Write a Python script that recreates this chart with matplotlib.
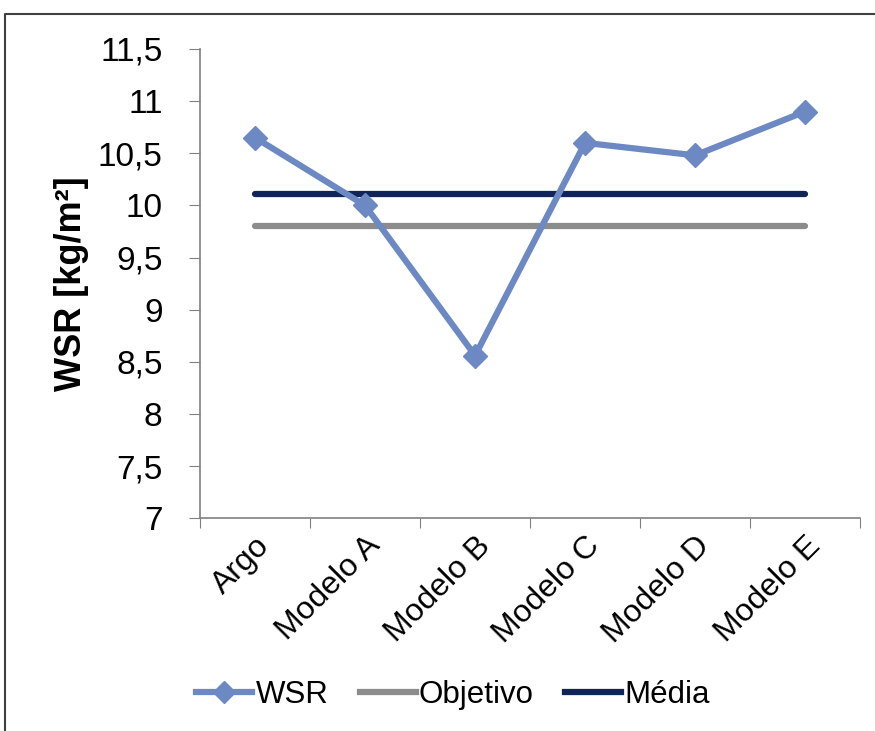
import matplotlib
matplotlib.use("Agg")
import matplotlib.pyplot as plt
from matplotlib.lines import Line2D
import numpy as np

categories = ["Argo", "Modelo A", "Modelo B", "Modelo C", "Modelo D", "Modelo E"]
wsr = [10.65, 10.0, 8.56, 10.6, 10.48, 10.9]
objetivo = [9.8] * 6
media = [10.11] * 6
y_ticks = [7, 7.5, 8, 8.5, 9, 9.5, 10, 10.5, 11, 11.5]
y_tick_labels = ["7", "7,5", "8", "8,5", "9", "9,5", "10", "10,5", "11", "11,5"]

plt.rcParams["font.family"] = ["Liberation Sans", "DejaVu Sans"]

fig = plt.figure(figsize=(8.75, 7.31), dpi=100)
ax = fig.add_axes([0.2286, 0.291, 0.983 - 0.2286, 0.933 - 0.291])

x = np.arange(len(categories)) + 0.5
c_wsr = "#6C89C4"
c_obj = "#8C8C8C"
c_med = "#0F2557"

ax.plot(x, objetivo, color=c_obj, lw=4.5, solid_capstyle="round", zorder=2)
ax.plot(x, media, color=c_med, lw=4.5, solid_capstyle="round", zorder=2)
ax.plot(x, wsr, color=c_wsr, lw=4.5, marker="D", ms=12, mec=c_wsr, mfc=c_wsr, zorder=3)

ax.set_xlim(0, len(categories))
ax.set_ylim(7, 11.5)
ax.set_yticks(y_ticks)
ax.set_yticklabels(y_tick_labels, fontsize=24)
ax.set_xticks(np.arange(len(categories) + 1))
ax.set_xticklabels([])
ax.set_xticks(x, minor=True)
ax.set_xticklabels(categories, minor=True, rotation=45, ha="right",
                   rotation_mode="anchor", fontsize=23)
ax.tick_params(axis="x", which="minor", length=0, pad=9)
ax.tick_params(axis="x", which="major", length=7, direction="out", color="#808080")
ax.tick_params(axis="y", length=8, direction="out", color="#808080", pad=19)

for side in ["top", "right"]:
    ax.spines[side].set_visible(False)
for side in ["left", "bottom"]:
    ax.spines[side].set_color("#808080")
    ax.spines[side].set_linewidth(1.2)

ax.set_ylabel("WSR [kg/m²]", fontsize=26, fontweight="bold", labelpad=6)

handles = [
    Line2D([], [], color=c_wsr, lw=4.5, marker="D", ms=11),
    Line2D([], [], color=c_obj, lw=4.5),
    Line2D([], [], color=c_med, lw=4.5),
]
fig.legend(handles, ["WSR", "Objetivo", "Média"], loc="center",
           bbox_to_anchor=(453 / 875, 1 - 695 / 731), ncol=3, frameon=False,
           fontsize=22.5, handlelength=1.8, handletextpad=0.1, columnspacing=1.0)

# outer frame (top and left edges)
fig.add_artist(Line2D([5 / 875, 5 / 875, 1.0], [0.0, 1 - 14 / 731, 1 - 14 / 731],
                      transform=fig.transFigure, color="#404040", lw=1.5))

fig.savefig("out.png", dpi=100)
